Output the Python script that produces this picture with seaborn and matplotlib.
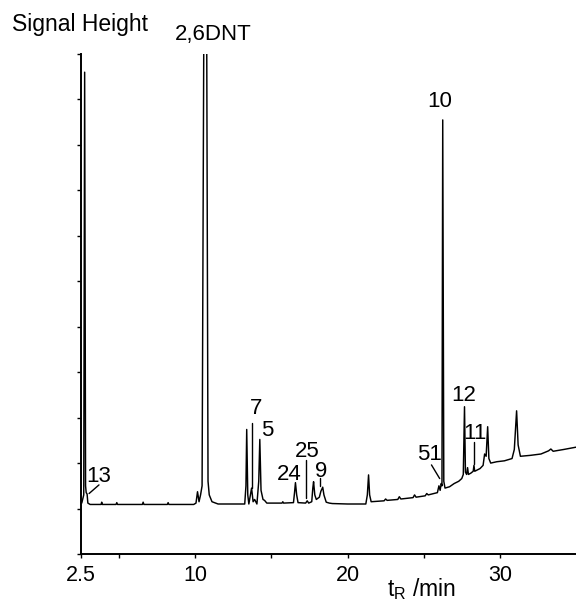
import matplotlib
matplotlib.use("Agg")
import matplotlib.pyplot as plt
import seaborn as sns
import pandas as pd

# ---- data (retention time in min, signal in axis units) ----
trace_t = [2.55, 2.68, 2.74, 2.80, 2.84, 2.90, 2.95, 3.10, 3.82, 3.86, 3.90, 4.80, 4.85, 4.90,
           6.53, 6.58, 6.63, 8.17, 8.22, 8.27, 9.90, 10.05, 10.15, 10.25, 10.35, 10.45, 10.58,
           10.74, 10.84, 10.92, 11.10, 11.50, 13.25, 13.33, 13.38, 13.45, 13.52, 13.62, 13.70,
           13.80, 13.90, 14.05, 14.17, 14.24, 14.32, 14.45, 14.55, 14.70, 15.70, 15.75, 15.80,
           16.45, 16.52, 16.58, 16.66, 16.75, 17.25, 17.35, 17.45, 17.65, 17.72, 17.77, 17.85,
           17.95, 18.15, 18.25, 18.30, 18.37, 18.45, 18.60, 18.80, 19.00, 20.00, 21.20, 21.30,
           21.38, 21.45, 21.55, 22.40, 22.50, 22.60, 23.30, 23.40, 23.50, 24.30, 24.40, 24.50,
           25.10, 25.20, 25.30, 25.90, 26.00, 26.08, 26.15, 26.20, 26.25, 26.32, 26.40, 26.70,
           27.00, 27.30, 27.50, 27.60, 27.68, 27.74, 27.82, 27.88, 27.94, 28.10, 28.25, 28.30,
           28.35, 28.70, 28.90, 29.00, 29.10, 29.20, 29.28, 29.40, 29.80, 30.30, 30.80, 30.95,
           31.10, 31.20, 31.35, 32.00, 32.70, 33.20, 33.35, 33.50, 34.20, 35.00]
trace_s = [1.12, 1.30, 10.60, 1.50, 1.35, 1.32, 1.12, 1.09, 1.09, 1.14, 1.09, 1.09, 1.13, 1.09,
           1.09, 1.14, 1.09, 1.09, 1.13, 1.09, 1.09, 1.12, 1.37, 1.15, 1.30, 1.50, 13.0,
           13.0, 1.60, 1.30, 1.15, 1.10, 1.10, 1.50, 2.74, 1.30, 1.10, 1.30, 1.45,
           1.15, 1.20, 1.10, 1.60, 2.52, 1.40, 1.20, 1.18, 1.12, 1.12, 1.15, 1.12,
           1.13, 1.35, 1.57, 1.30, 1.13, 1.12, 1.17, 1.12, 1.15, 1.45, 1.59, 1.30,
           1.20, 1.25, 1.38, 1.42, 1.47, 1.30, 1.14, 1.12, 1.11, 1.10, 1.10, 1.30,
           1.74, 1.30, 1.15, 1.17, 1.21, 1.18, 1.20, 1.26, 1.21, 1.24, 1.30, 1.25,
           1.28, 1.33, 1.30, 1.35, 1.50, 1.40, 1.55, 1.50, 9.55, 1.60, 1.45, 1.48,
           1.55, 1.60, 1.66, 1.75, 3.24, 1.80, 1.75, 1.90, 1.75, 1.78, 1.82, 1.95,
           1.82, 1.88, 1.95, 2.20, 2.15, 2.80, 2.10, 2.00, 2.03, 2.05, 2.10, 2.30,
           3.15, 2.40, 2.15, 2.17, 2.20, 2.27, 2.31, 2.26, 2.30, 2.35]

peak_labels = ["13", "7", "5", "25", "24", "9", "10", "12", "11", "51", "2,6DNT"]
x_major_ticks = [2.5, 10, 20, 30]
x_tick_labels = ["2.5", "10", "20", "30"]
x_minor_ticks = [5, 15, 25]
y_ticks = list(range(0, 12))

# label anchor positions (layout, data coords: t center, baseline)
label_pos = [(3.68, 1.58), (13.99, 3.09), (14.70, 2.59), (17.34, 2.14), (16.15, 1.63),
             (18.29, 1.70), (26.05, 9.83), (27.63, 3.37), (28.38, 2.54), (25.39, 2.07),
             (11.18, 11.30)]
leaders = [((3.68, 3.03), (1.52, 1.33)), ((13.73, 13.73), (2.88, 1.45)),
           ((17.30, 17.30), (2.07, 1.23)), ((18.16, 18.16), (1.67, 1.49)),
           ((25.51, 26.05), (1.96, 1.66)), ((28.30, 28.30), (2.47, 1.99))]

sns.set_style("ticks")
plt.rcParams["font.family"] = ["Liberation Sans", "DejaVu Sans"]
plt.rcParams["mathtext.fontset"] = "custom"
plt.rcParams["mathtext.rm"] = "Liberation Sans"
plt.rcParams["text.color"] = "black"
plt.rcParams["xtick.labelcolor"] = "black"
plt.rcParams["xtick.color"] = "black"
plt.rcParams["ytick.color"] = "black"

fig = plt.figure(figsize=(5.76, 6.09), dpi=100)
ax = fig.add_axes([81 / 576, 1 - 554 / 609, 1 - 81 / 576, 500 / 609])

df = pd.DataFrame({"t": trace_t, "s": trace_s})
sns.lineplot(data=df, x="t", y="s", sort=False, estimator=None, color="black",
             linewidth=1.05, ax=ax)

for (xs, ys) in leaders:
    ax.plot(xs, ys, color="black", linewidth=1.0)

for lab, (tx, ty) in zip(peak_labels, label_pos):
    ax.text(tx, ty, lab, ha="center", va="baseline", fontsize=16, color="black",
            clip_on=False)

ax.set_xlim(2.5, 35.0)
ax.set_ylim(0, 11)
ax.set_xticks(x_major_ticks)
ax.set_xticklabels(x_tick_labels, fontsize=15.5, color="black")
ax.set_xticks(x_minor_ticks, minor=True)
ax.set_yticks(y_ticks)
ax.set_yticklabels([])
ax.tick_params(axis="both", which="both", direction="out", length=3, width=1.0,
               color="black", pad=5)
ax.set_xlabel("")
ax.set_ylabel("")
for side in ["top", "right"]:
    ax.spines[side].set_visible(False)
for side in ["left", "bottom"]:
    ax.spines[side].set_linewidth(1.4)
    ax.spines[side].set_color("black")

fig.text(12 / 576, 1 - 31 / 609, "Signal Height", ha="left", va="baseline",
         fontsize=16.5, color="black")
fig.text(421 / 576, 1 - 596 / 609, r"t$_\mathregular{R}$ /min", ha="center",
         va="baseline", fontsize=16.5, color="black")

fig.savefig("out.png", dpi=100)
